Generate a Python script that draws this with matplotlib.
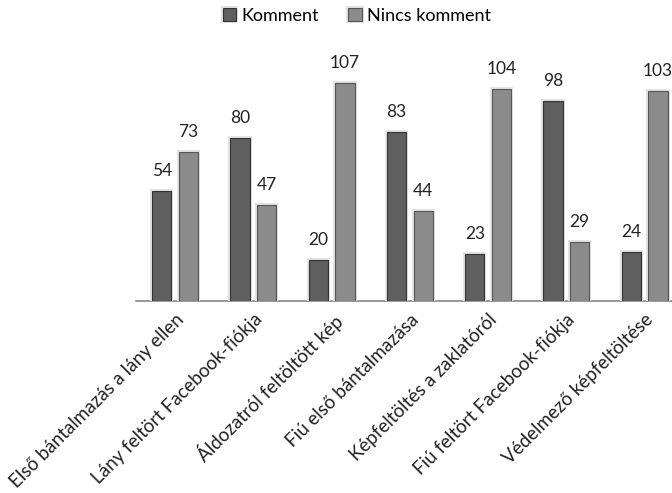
import matplotlib.pyplot as plt
import matplotlib.patheffects as pe
import numpy as np

plt.rcParams['font.family'] = ['Lato', 'DejaVu Sans']

# Data
categories = ['Első bántalmazás a lány ellen', 'Lány feltört Facebook-fiókja',
              'Áldozatról feltöltött kép', 'Fiú első bántalmazása',
              'Képfeltöltés a zaklatóról', 'Fiú feltört Facebook-fiókja',
              'Védelmező képfeltöltése']
komment = [54, 80, 20, 83, 23, 98, 24]
nincs_komment = [73, 47, 107, 44, 104, 29, 103]

fig = plt.figure(figsize=(6.72, 4.93), dpi=100)
# axes: left edge ~136px, baseline ~301px from top, right side cut off by figure
ax = fig.add_axes([136 / 672, 192 / 493, 536 / 672, 260 / 493])

x = np.arange(len(categories))
w = 0.245
off = 0.17
glow = [pe.Stroke(linewidth=3, foreground='#e4e4e4'), pe.Normal()]

b1 = ax.bar(x - off, komment, w, color='#5f5f5f', edgecolor='#333333',
            linewidth=0.8, label='Komment', zorder=3)
b2 = ax.bar(x + off, nincs_komment, w, color='#8b8b8b', edgecolor='#555555',
            linewidth=0.8, label='Nincs komment', zorder=3)
for b in list(b1) + list(b2):
    b.set_path_effects(glow)

for xi, v in zip(x - off, komment):
    ax.text(xi, v + 6, str(v), ha='center', va='bottom', fontsize=12.5, color='#222222')
for xi, v in zip(x + off, nincs_komment):
    ax.text(xi, v + 6, str(v), ha='center', va='bottom', fontsize=12.5, color='#222222',
            clip_on=False)

ax.set_xlim(-0.5, 6.35)
ax.set_ylim(0, 127.5)
ax.set_xticks(x)
ax.set_xticklabels(categories, rotation=45, ha='right', rotation_mode='anchor',
                   fontsize=13.5, color='#222222')
ax.tick_params(axis='x', length=0, pad=7)
ax.set_yticks([])
for s in ['top', 'right', 'left']:
    ax.spines[s].set_visible(False)
ax.spines['bottom'].set_color('#888888')
ax.spines['bottom'].set_linewidth(1.2)

fig.legend(loc='center', bbox_to_anchor=(357 / 672, 1 - 16 / 493), ncol=2,
           frameon=False, fontsize=13, handlelength=0.75, handleheight=0.75,
           handletextpad=0.3, columnspacing=1.6)

fig.savefig('out.png', dpi=100)
